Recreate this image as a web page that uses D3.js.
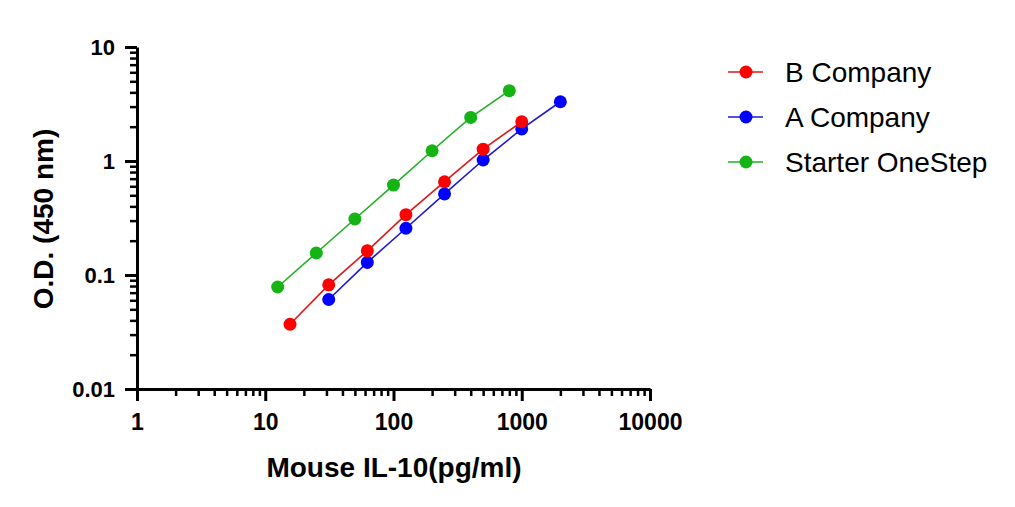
<!DOCTYPE html>
<html>
<head>
<meta charset="utf-8">
<script src="https://cdn.jsdelivr.net/npm/d3@7"></script>
<style>
  body { margin: 0; background: #fff; }
  svg { font-family: "Liberation Sans", Arial, sans-serif; }
  .axis path, .axis line { stroke: #000; stroke-width: 3; }
  .minor line { stroke-width: 2.5; }
  .axis text { font-size: 22px; font-weight: bold; fill: #000; }
</style>
</head>
<body>
<script>
'use strict';

// concentrations (pg/ml) and O.D. readings per kit
var bConc = [15.6, 31.25, 62.5, 125, 250, 500, 1000];
var bOD   = [0.037, 0.082, 0.163, 0.338, 0.658, 1.27, 2.21];

var aConc = [31.25, 62.5, 125, 250, 500, 1000, 2000];
var aOD   = [0.061, 0.129, 0.257, 0.514, 1.02, 1.91, 3.31];

var sConc = [12.5, 25, 50, 100, 200, 400, 800];
var sOD   = [0.0785, 0.156, 0.31, 0.615, 1.23, 2.41, 4.14];

var xTicks = [1, 10, 100, 1000, 10000];
var yTicks = [0.01, 0.1, 1, 10];
var yTickLabels = ["0.01", "0.1", "1", "10"];

var series = [
	{name: "A Company", conc: aConc, od: aOD, line: "#1a1ad2", fill: "#0000ff"},
	{name: "B Company", conc: bConc, od: bOD, line: "#dc1818", fill: "#ff0000"},
	{name: "Starter OneStep", conc: sConc, od: sOD, line: "#22b022", fill: "#14b414"}
];
var legendOrder = ["B Company", "A Company", "Starter OneStep"];

function minorsOf(majors) { // 2..9 between each decade
	var out = [];
	for (var i = 0; i < majors.length - 1; i++)
		for (var k = 2; k <= 9; k++) out.push(majors[i] * k);
	return out;
}

var svg = d3.select("body").append("svg")
			.attr("width", 1015)
			.attr("height", 507);

var xScale = d3.scaleLog().domain([1, 10000]).range([137, 650]);
var yScale = d3.scaleLog().domain([0.01, 10]).range([389, 47]);

// minor ticks first, majors on top
svg.append("g")
	.attr("class", "axis minor")
	.attr("transform", "translate(0,389)")
	.call(d3.axisBottom(xScale).tickValues(minorsOf(xTicks)).tickSize(7).tickSizeOuter(0).tickFormat(""))
	.select(".domain").remove();

svg.append("g")
	.attr("class", "axis minor")
	.attr("transform", "translate(137,0)")
	.call(d3.axisLeft(yScale).tickValues(minorsOf(yTicks)).tickSize(7).tickSizeOuter(0).tickFormat(""))
	.select(".domain").remove();

svg.append("g")
	.attr("class", "axis")
	.attr("transform", "translate(0,389)")
	.call(d3.axisBottom(xScale).tickValues(xTicks).tickSize(12).tickSizeOuter(0).tickPadding(13)
		.tickFormat(function(d) { return String(d); }))
	.selectAll("text").style("font-size", "23px");

svg.append("g")
	.attr("class", "axis")
	.attr("transform", "translate(137,0)")
	.call(d3.axisLeft(yScale).tickValues(yTicks).tickSize(12).tickSizeOuter(0).tickPadding(10)
		.tickFormat(function(d, i) { return yTickLabels[i]; }));

// axis titles
svg.append("text")
	.attr("transform", "translate(53,219) rotate(-90)")
	.attr("text-anchor", "middle")
	.style("font-size", "28px")
	.style("font-weight", "bold")
	.text("O.D. (450 nm)");

svg.append("text")
	.attr("x", 394)
	.attr("y", 477)
	.attr("text-anchor", "middle")
	.style("font-size", "28px")
	.style("font-weight", "bold")
	.text("Mouse IL-10(pg/ml)");

var line = d3.line()
			.x(function(d) { return xScale(d[0]); })
			.y(function(d) { return yScale(d[1]); });

series.forEach(function(s) {
	var pts = d3.zip(s.conc, s.od);
	var g = svg.append("g");
	g.append("path")
		.attr("d", line(pts))
		.attr("fill", "none")
		.attr("stroke", s.line)
		.attr("stroke-width", 1.6);
	g.selectAll("circle")
		.data(pts)
		.enter()
		.append("circle")
		.attr("cx", function(d) { return xScale(d[0]); })
		.attr("cy", function(d) { return yScale(d[1]); })
		.attr("r", 6.5)
		.attr("fill", s.fill);
});

// legend
var legend = svg.selectAll(".legend")
				.data(legendOrder)
				.enter()
				.append("g")
				.attr("class", "legend")
				.attr("transform", function(d, i) { return "translate(728," + (72 + i * 45) + ")"; });

legend.each(function(name) {
	var s = series.find(function(t) { return t.name == name; });
	var g = d3.select(this);
	g.append("line").attr("x1", 0).attr("x2", 35).attr("stroke", s.line).attr("stroke-width", 1.6);
	g.append("circle").attr("cx", 18).attr("r", 6.5).attr("fill", s.fill);
	g.append("text")
		.attr("x", 57)
		.attr("dy", "0.35em")
		.style("font-size", "28px")
		.text(name);
});
</script>
</body>
</html>
